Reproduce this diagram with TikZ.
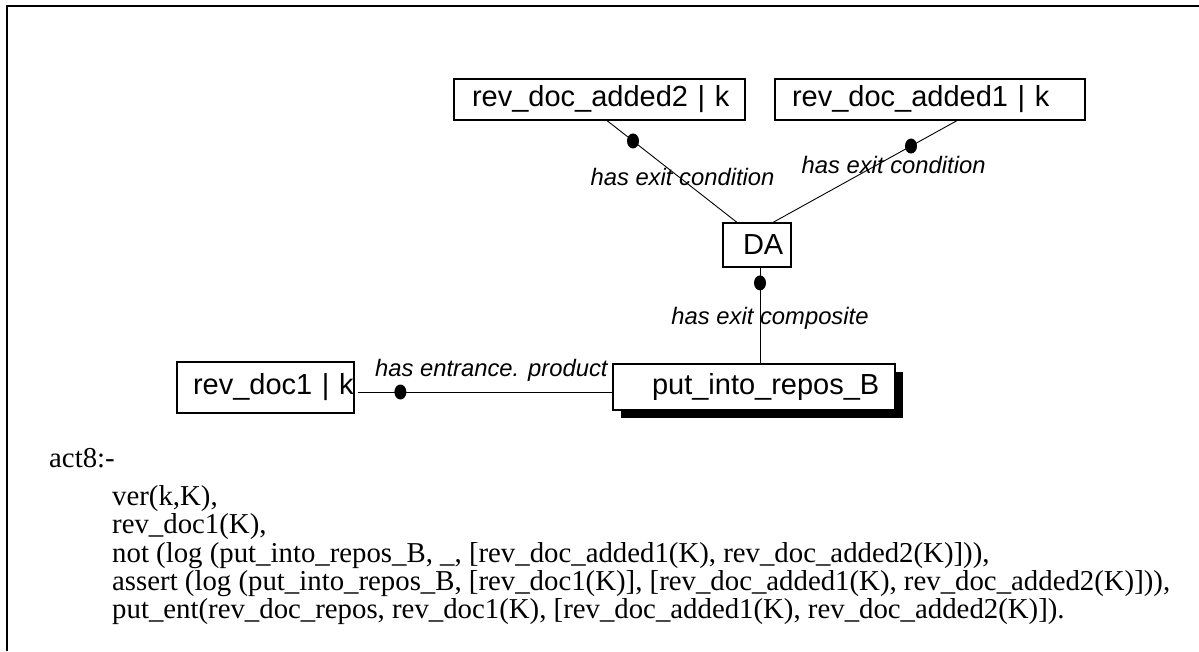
\documentclass[tikz,border=0pt]{standalone}
\usepackage{fontspec}
\setmainfont{Liberation Serif}
\newfontfamily\arialfont{Liberation Sans}
\usetikzlibrary{shapes.geometric,shadows}

\begin{document}
\begin{tikzpicture}[x=1pt,y=-1pt,
        box/.style={draw,fill=white,line width=1.2pt,align=left,inner ysep=0pt,
            font=\arialfont\fontsize{29}{29}\selectfont},
        dot/.style={ellipse,fill,inner sep=0pt,minimum width=12pt,minimum height=15pt},
        lbl/.style={font=\arialfont\itshape\fontsize{23.8}{24}\selectfont,inner sep=0pt},
        code/.style={font=\fontsize{28.8}{28.3}\selectfont,inner sep=0pt,align=left}]
    \useasboundingbox (0,0) rectangle (1199,651);
    % frame
    \draw[line width=2pt] (7,651) -- (7,6) -- (1199,6);
    % boxes
    \node[box,text width=255pt,inner xsep=18pt,minimum height=41pt] (added2) at (599.5,99.5) {\mbox{rev\_doc\_added2 | k}};
    \node[box,text width=276pt,inner xsep=17pt,minimum height=41pt] (added1) at (930,99.5) {\mbox{rev\_doc\_added1 | k}};
    \node[box,text width=28pt,inner xsep=20pt,minimum height=44pt] (da) at (757,245) {\mbox{DA}};
    \node[box,text width=204pt,inner xsep=39pt,minimum height=46pt,
        drop shadow={shadow xshift=8pt,shadow yshift=-8pt,fill=black,opacity=1}] (put) at (754,387) {\mbox{put\_into\_repos\_B}};
    \node[box,text width=145pt,inner xsep=16pt,minimum height=51pt] (doc1) at (265.5,387.5) {\mbox{rev\_doc1 | k}};
    % connectors
    \coordinate (dasouth) at ([xshift=3pt]da.south);
    \coordinate (doc1east) at ([xshift=3pt,yshift=-4.5pt]doc1.east);
    \draw[line width=0.9pt] ([xshift=7.5pt]added2.south) -- node[dot,pos=0.2]{}
        node[lbl,pos=0.553,xshift=3.6pt]{has exit condition} ([xshift=-20pt]da.north);
    \draw[line width=0.9pt] ([xshift=27pt]added1.south) -- node[dot,pos=0.25]{}
        node[lbl,pos=0.437,xshift=17pt]{has exit condition} ([xshift=16pt]da.north);
    \draw[line width=0.9pt] (dasouth) -- node[dot,pos=0.16]{}
        node[lbl,pos=0.526,xshift=10pt]{has exit composite} (dasouth |- put.north);
    \draw[line width=0.9pt] (doc1east) -- node[dot,pos=0.168]{}
        node[lbl,pos=0.525,yshift=22pt]{has entrance. product} (doc1east -| put.west);
    % clause text
    \node[code,anchor=west] (head) at (49,458) {act8:-};
    \node[code,anchor=north west] (body) at (112,485.3) {ver(k,K),\\
        rev\_doc1(K),\\
        not (log (put\_into\_repos\_B, \_, [rev\_doc\_added1(K), rev\_doc\_added2(K)])),\\
        assert (log (put\_into\_repos\_B, [rev\_doc1(K)], [rev\_doc\_added1(K), rev\_doc\_added2(K)])),\\
        put\_ent(rev\_doc\_repos, rev\_doc1(K), [rev\_doc\_added1(K), rev\_doc\_added2(K)]).};
\end{tikzpicture}
\end{document}
